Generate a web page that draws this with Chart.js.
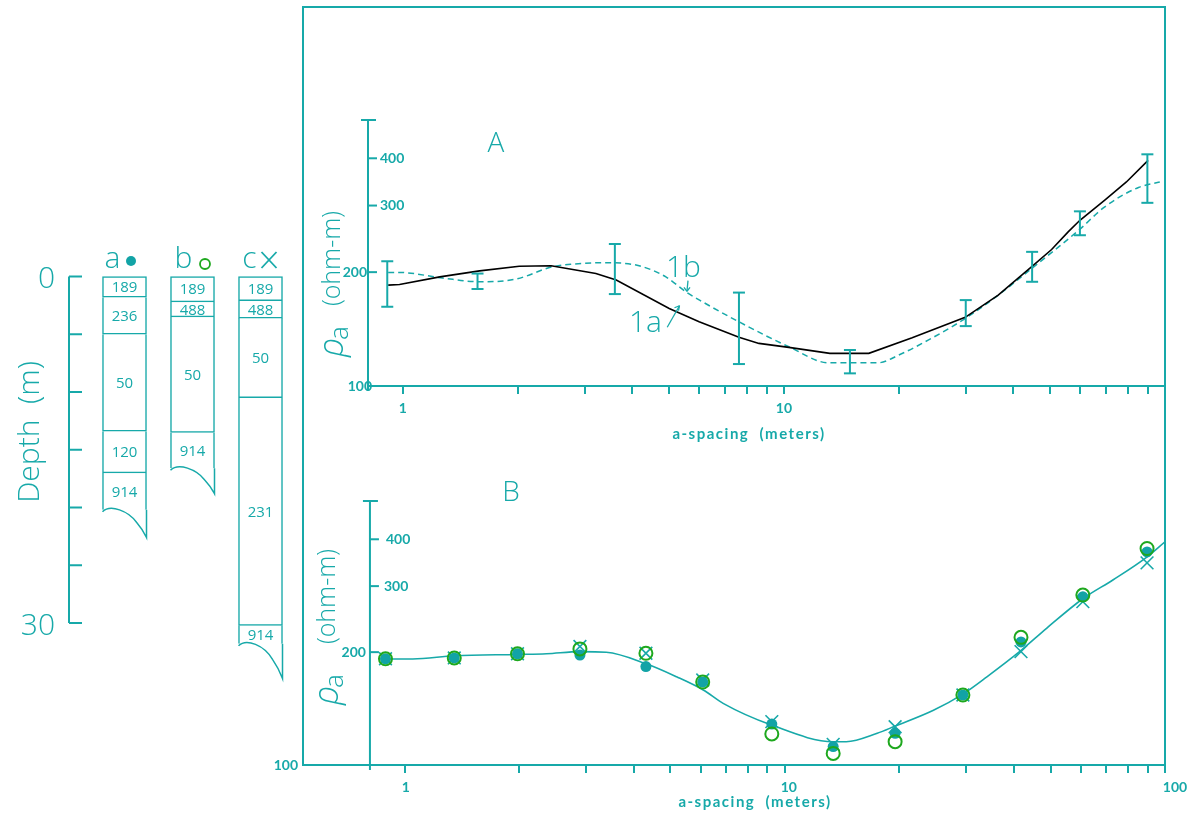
<!DOCTYPE html>
<html>
<head>
<meta charset="utf-8">
<script src="https://cdn.jsdelivr.net/npm/chart.js@4.4.1/dist/chart.umd.min.js"></script>
<style>
  body { margin: 0; background: #fff; overflow: hidden; }
  canvas { position: absolute; left: 0; top: 0; }
</style>
</head>
<body>
<canvas id="logs" width="300" height="813"></canvas>
<canvas id="chartA" width="1197" height="813"></canvas>
<canvas id="chartB" width="1197" height="813"></canvas>
<script>
const TEAL = '#17a9a9';
const DOT = '#12a3a6';
const GREEN = '#1ea81e';
const SMALL = 'bold 14px Lato';

// layered sections: depth of each layer top (m), layer resistivity (ohm-m)
const columns = ['a', 'b', 'c'];
const layerTops = [[0, 1.8, 5.0, 13.4, 17.0], [0, 2.2, 3.5, 13.5], [0, 2.1, 3.6, 10.5, 30.2]];
const layerRho = [[189, 236, 50, 120, 914], [189, 488, 50, 914], [189, 488, 50, 231, 914]];
const baseLeft = [20.2, 16.6, 31.8];
const baseRight = [22.6, 18.8, 34.8];
const depthTicks = [0, 5, 10, 15, 20, 25, 30];
const depthLabels = ['0', '', '', '', '', '', '30'];

// A: computed curves for the two models
const curve1aX = [0.915, 0.98, 1.25, 1.59, 2.02, 2.45, 3.21, 3.63, 5.0, 5.99, 7.62, 8.6, 10.3, 13.2, 16.7, 21.7, 29.9, 36.5, 39.6, 44.7, 50.4, 55.7, 59.8, 69.5, 79.2, 90.3];
const curve1aY = [184.8, 185.5, 194.3, 201.6, 207.3, 207.9, 198.3, 190.6, 160.3, 147.8, 134.5, 129.6, 126.5, 122, 122, 134.1, 151.9, 173.8, 186.6, 206.7, 229.5, 255.5, 274.3, 310, 346.3, 395];
const curve1bX = [0.915, 0.98, 1.27, 1.59, 1.98, 2.47, 2.79, 3.41, 4.17, 4.9, 5.53, 6.11, 7.62, 10.3, 13.1, 17.7, 20, 23.9, 29.9, 36.5, 44.7, 59.4, 69.5, 85.2, 96.9];
const curve1bY = [199.6, 199.6, 193, 188.6, 191.7, 206.7, 210, 211.8, 207.9, 194.3, 177.4, 167, 147.8, 127, 115.2, 115.2, 120.7, 132.2, 150.8, 173.8, 204.5, 258.2, 297.7, 334.9, 346.3];
// A: error bars
const errX = [0.91, 1.57, 3.6, 7.62, 14.9, 30, 44.8, 59.8, 89.9];
const errLo = [162, 180.5, 175, 114.3, 108, 144, 188.6, 250.4, 305];
const errHi = [213.7, 198.3, 237.4, 176.6, 124.5, 168.7, 226.3, 289.6, 409.8];

// B: field soundings at each a-spacing, one series per section
const aSpacing = [0.89, 1.35, 1.98, 2.89, 4.31, 6.08, 9.24, 13.4, 19.5, 29.4, 41.8, 60.8, 89.7];
const rhoA = [192, 193, 198, 196.5, 183, 166.5, 128.6, 112, 121.5, 153.7, 213, 281, 370];
const rhoB = [192, 193, 198, 204, 198.6, 166.5, 121, 107.4, 115.4, 153.7, 219, 284, 378];
const rhoC = [192, 193, 198, 207, 198.6, 168.6, 130.5, 113.5, 126.5, 153.7, 200.6, 272.7, 346];
// B: fitted curve
const fitX = [0.89, 1.05, 1.35, 1.98, 2.36, 2.89, 3.39, 4.3, 5.19, 6.1, 6.88, 9.22, 13.4, 14.5, 17.5, 19.5, 24.6, 29.4, 34, 41.9, 48.8, 60.9, 73.1, 89.4, 100];
const fitY = [191.8, 191.8, 195.6, 197.2, 198, 200.6, 199.8, 186.5, 171.9, 158.5, 146, 127.8, 115.4, 115.4, 121.5, 127, 140, 154.6, 171.9, 202.5, 231.5, 278, 312, 358, 394];

const xTicks = [1, 2, 3, 4, 5, 6, 7, 8, 9, 10, 20, 30, 40, 50, 60, 70, 80, 90, 100];
const yTicks = [200, 300, 400];

const pts = (xs, ys) => xs.map((x, i) => ({ x, y: ys[i] }));

Chart.defaults.font.family = 'Lato';
Chart.defaults.animation = false;
Chart.defaults.plugins.legend.display = false;
Chart.defaults.plugins.tooltip.enabled = false;

function line(ctx, x1, y1, x2, y2) {
  ctx.beginPath(); ctx.moveTo(x1, y1); ctx.lineTo(x2, y2); ctx.stroke();
}

function text(ctx, str, x, y, font, align, color) {
  ctx.font = font;
  ctx.textAlign = align || 'center';
  ctx.textBaseline = 'middle';
  ctx.fillStyle = color || TEAL;
  ctx.fillText(str, x, y);
}

function axisTitle(ctx, str, x, y) {
  ctx.save();
  ctx.letterSpacing = '1.5px';
  text(ctx, str, x, y, 'bold 15px Lato');
  ctx.restore();
}

// rho-a (ohm-m) written upward, starting at (x, y)
function rhoTitle(ctx, x, y, gap) {
  ctx.save();
  ctx.translate(x, y);
  ctx.rotate(-Math.PI / 2);
  ctx.fillStyle = TEAL;
  ctx.textAlign = 'left';
  ctx.textBaseline = 'middle';
  ctx.font = 'italic 300 34px "Open Sans"';
  ctx.fillText('ρ', 0, 0);
  let w = ctx.measureText('ρ').width;
  ctx.font = '300 26px "Open Sans"';
  ctx.fillText('a', w - 2, 8);
  w += ctx.measureText('a').width + gap;
  ctx.font = '300 25px "Open Sans"';
  ctx.fillText('(ohm-m)', w, 0);
  ctx.restore();
}

// y axis drawn at a chosen a-spacing, with its tick labels placed beside it
function drawRhoAxis(ctx, chart, xVal, labelPos) {
  const xs = chart.scales.x, ys = chart.scales.y;
  const x = xs.getPixelForValue(xVal);
  const top = ys.getPixelForValue(ys.max), bottom = ys.getPixelForValue(100);
  ctx.strokeStyle = TEAL;
  ctx.lineWidth = 2;
  line(ctx, x, top, x, bottom + 5);
  line(ctx, x - 7, top, x + 8, top);
  yTicks.forEach((v, i) => {
    const y = ys.getPixelForValue(v);
    line(ctx, x, y, x + 9, y);
    const p = labelPos[i];
    text(ctx, String(v), x + p[0], y + p[1], SMALL, p[2]);
  });
}

// a-spacing labels under the bottom axis
function drawXLabels(ctx, chart, labels, shift) {
  const xs = chart.scales.x, bottom = chart.chartArea.bottom;
  labels.forEach((v, i) => {
    text(ctx, String(v), xs.getPixelForValue(v) + shift[i], bottom + 22, SMALL);
  });
}

// ---------- layered sections ----------
const layerSets = [];
const nLayers = Math.max(...layerRho.map(r => r.length));
for (let i = 0; i < nLayers; i++) {
  layerSets.push({
    data: columns.map((c, j) => {
      const tops = layerTops[j];
      if (i >= tops.length) return null;
      return [tops[i], i + 1 < tops.length ? tops[i + 1] : baseLeft[j]];
    }),
    backgroundColor: '#fff',
    borderColor: TEAL,
    borderSkipped: false,
    borderWidth: (c) => {
      const last = i === layerTops[c.dataIndex].length - 1;
      return { top: i === 0 ? 1.5 : 0, left: 1.5, right: 1.5, bottom: last ? 0 : 1.5 };
    },
    grouped: false,
    clip: false,
    barThickness: 44
  });
}

new Chart(document.getElementById('logs'), {
  type: 'bar',
  data: { labels: columns, datasets: layerSets },
  options: {
    responsive: false,
    layout: { padding: { left: 90.5, right: 5.5, top: 276.5, bottom: 190 } },
    scales: {
      x: { display: false },
      y: { display: false, reverse: true, min: 0, max: 30 }
    }
  },
  plugins: [{
    id: 'sections',
    afterDatasetsDraw(chart) {
      const ctx = chart.ctx, ys = chart.scales.y, area = chart.chartArea;
      ctx.save();
      // layer values
      chart.data.datasets.forEach((ds, i) => {
        chart.getDatasetMeta(i).data.forEach((bar, j) => {
          if (ds.data[j] == null) return;
          text(ctx, String(layerRho[j][i]), bar.x, (bar.base + bar.y) / 2 + 1, '15px "Open Sans"');
        });
      });
      // broken base of each section
      ctx.strokeStyle = TEAL;
      ctx.lineWidth = 1.5;
      chart.getDatasetMeta(0).data.forEach((bar, j) => {
        const xl = bar.x - bar.width / 2, xr = bar.x + bar.width / 2;
        const yl = ys.getPixelForValue(baseLeft[j]), yr = ys.getPixelForValue(baseRight[j]);
        const h = yr - yl;
        ctx.beginPath();
        ctx.moveTo(xl, yl + 2);
        ctx.bezierCurveTo(xl + 8, yl - 6, xl + 26, yl + h * 0.05, xl + 34, yl + h * 0.45);
        ctx.quadraticCurveTo(xr - 4, yl + h * 0.7, xr, yr);
        ctx.lineTo(xr, yl);
        ctx.stroke();
      });
      // section headers with the marker of each series
      const m = chart.getDatasetMeta(0).data;
      const shift = [-12, -9, -11];
      m.forEach((bar, j) => {
        text(ctx, columns[j], bar.x + shift[j], 259, '300 30px "Open Sans"');
      });
      ctx.fillStyle = DOT;
      ctx.beginPath(); ctx.arc(m[0].x + 6.5, 261, 5, 0, Math.PI * 2); ctx.fill();
      ctx.strokeStyle = GREEN; ctx.lineWidth = 1.8;
      ctx.beginPath(); ctx.arc(m[1].x + 12.5, 264, 5, 0, Math.PI * 2); ctx.stroke();
      ctx.strokeStyle = TEAL; ctx.lineWidth = 1.8;
      line(ctx, m[2].x + 1, 252, m[2].x + 16, 268);
      line(ctx, m[2].x + 1, 268, m[2].x + 16, 252);
      // depth scale
      const ax = area.left - 21.5;
      ctx.lineWidth = 2;
      line(ctx, ax, ys.getPixelForValue(0), ax, ys.getPixelForValue(30));
      depthTicks.forEach((d, i) => {
        const y = ys.getPixelForValue(d);
        line(ctx, ax, y, ax + 13, y);
        if (depthLabels[i]) text(ctx, depthLabels[i], ax - 14, y + 3, '300 30px "Open Sans"', 'right');
      });
      ctx.translate(30, 432);
      ctx.rotate(-Math.PI / 2);
      text(ctx, 'Depth  (m)', 0, 0, '300 30px "Open Sans"');
      ctx.restore();
    }
  }]
});

// ---------- shared log axis settings ----------
function xAxis(min) {
  return {
    type: 'logarithmic', min, max: 100,
    afterBuildTicks: (s) => { s.ticks = xTicks.map(v => ({ value: v })); },
    afterFit: (s) => { s.height = 0; },
    grid: { drawOnChartArea: false, color: TEAL, lineWidth: 2, tickLength: 8 },
    border: { display: true, color: TEAL, width: 2 },
    ticks: { display: false }
  };
}

// ---------- A: model curves ----------
new Chart(document.getElementById('chartA'), {
  type: 'line',
  data: {
    datasets: [{
      data: pts(curve1aX, curve1aY),
      borderColor: '#000', borderWidth: 1.6, pointRadius: 0, tension: 0
    }, {
      data: pts(curve1bX, curve1bY),
      borderColor: TEAL, borderWidth: 1.5, borderDash: [6, 4], pointRadius: 0,
      cubicInterpolationMode: 'monotone'
    }]
  },
  options: {
    responsive: false,
    layout: { padding: { left: 368, right: 32, top: 120, bottom: 427 } },
    scales: {
      x: xAxis(0.81),
      y: { type: 'logarithmic', min: 100, max: 505, display: false }
    }
  },
  plugins: [{
    id: 'panelA',
    afterDatasetsDraw(chart) {
      const ctx = chart.ctx, xs = chart.scales.x, ys = chart.scales.y;
      ctx.save();
      ctx.strokeStyle = TEAL;
      ctx.lineWidth = 2;
      errX.forEach((a, i) => {
        const x = xs.getPixelForValue(a);
        const y1 = ys.getPixelForValue(errLo[i]), y2 = ys.getPixelForValue(errHi[i]);
        line(ctx, x, y1, x, y2);
        line(ctx, x - 6, y1, x + 6, y1);
        line(ctx, x - 6, y2, x + 6, y2);
      });
      drawRhoAxis(ctx, chart, 0.81, [[-1, 0, 'right'], [12, 0, 'left'], [12, 0, 'left']]);
      text(ctx, '100', xs.getPixelForValue(0.81) + 4, ys.getPixelForValue(100), SMALL, 'right');
      drawXLabels(ctx, chart, [1, 10], [0, 0]);
      rhoTitle(ctx, 333, 357, 18);
      axisTitle(ctx, 'a-spacing  (meters)', 749, 434);
      text(ctx, 'A', 496, 144, '300 28px "Open Sans"');
      // curve labels with leaders
      text(ctx, '1a', xs.getPixelForValue(4.33), ys.getPixelForValue(146), '300 30px "Open Sans"');
      text(ctx, '1b', xs.getPixelForValue(5.45), ys.getPixelForValue(205), '300 30px "Open Sans"');
      ctx.lineWidth = 1.3;
      let x1 = xs.getPixelForValue(4.94), y1 = ys.getPixelForValue(143);
      let x2 = xs.getPixelForValue(5.32), y2 = ys.getPixelForValue(163);
      line(ctx, x1, y1, x2, y2);
      line(ctx, x2, y2, x2 - 5, y2 + 2); line(ctx, x2, y2, x2 - 1, y2 + 5);
      x1 = xs.getPixelForValue(5.6); y1 = ys.getPixelForValue(190);
      y2 = ys.getPixelForValue(178);
      line(ctx, x1, y1, x1 - 1, y2);
      line(ctx, x1 - 1, y2, x1 - 4, y2 - 4); line(ctx, x1 - 1, y2, x1 + 2, y2 - 4);
      ctx.restore();
    }
  }]
});

// ---------- B: soundings and fitted curve ----------
new Chart(document.getElementById('chartB'), {
  type: 'line',
  data: {
    datasets: [{
      data: pts(aSpacing, rhoB), showLine: false, order: 0,
      pointStyle: 'circle', pointRadius: 6.5, borderColor: GREEN, borderWidth: 2, backgroundColor: 'rgba(0,0,0,0)'
    }, {
      data: pts(aSpacing, rhoA), showLine: false, order: 1,
      pointStyle: 'circle', pointRadius: 5.5, borderWidth: 0, backgroundColor: DOT
    }, {
      data: pts(aSpacing, rhoC), showLine: false, order: 2,
      pointStyle: 'crossRot', pointRadius: 9, borderColor: TEAL, borderWidth: 1.6
    }, {
      data: pts(fitX, fitY), order: 3,
      borderColor: TEAL, borderWidth: 1.6, pointRadius: 0, cubicInterpolationMode: 'monotone'
    }]
  },
  options: {
    responsive: false,
    layout: { padding: { left: 303, right: 32, top: 501, bottom: 48 } },
    scales: {
      x: xAxis(0.54),
      y: { type: 'logarithmic', min: 100, max: 506, display: false }
    }
  },
  plugins: [{
    id: 'panelB',
    afterDatasetsDraw(chart) {
      const ctx = chart.ctx, area = chart.chartArea;
      ctx.save();
      // outer frame around both panels
      ctx.strokeStyle = TEAL;
      ctx.lineWidth = 2;
      ctx.beginPath();
      ctx.moveTo(area.left, area.bottom);
      ctx.lineTo(area.left, 7);
      ctx.lineTo(area.right, 7);
      ctx.lineTo(area.right, area.bottom);
      ctx.stroke();
      drawRhoAxis(ctx, chart, 0.81, [[-4, 0, 'right'], [14, 0, 'left'], [16, 0, 'left']]);
      text(ctx, '100', area.left - 5, area.bottom, SMALL, 'right');
      drawXLabels(ctx, chart, [1, 10, 100], [1, 4, 10]);
      rhoTitle(ctx, 328, 705, 28);
      axisTitle(ctx, 'a-spacing  (meters)', 755, 802);
      text(ctx, 'B', 511, 493, '300 28px "Open Sans"');
      ctx.restore();
    }
  }]
});
</script>
</body>
</html>
